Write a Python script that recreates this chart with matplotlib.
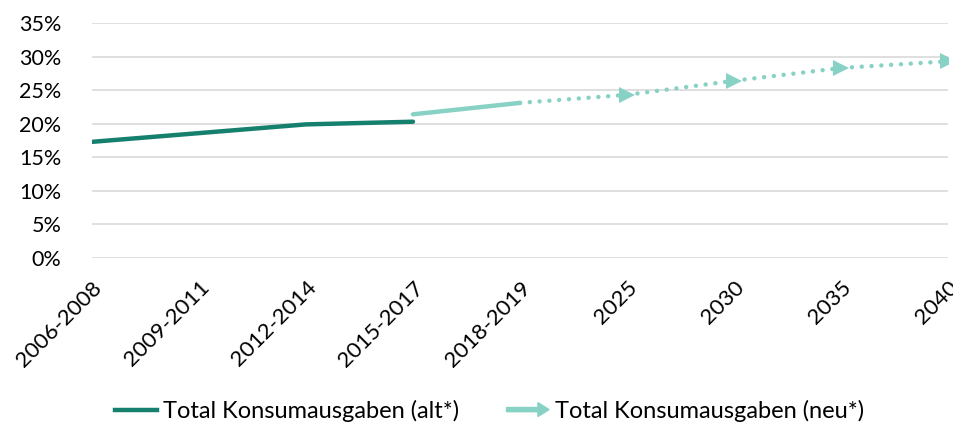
import matplotlib.pyplot as plt
import matplotlib.patches as mpatches
from matplotlib.lines import Line2D
from matplotlib.legend_handler import HandlerPatch
from matplotlib.ticker import PercentFormatter

plt.rcParams['font.family'] = ['Lato', 'DejaVu Sans']

categories = ['2006-2008', '2009-2011', '2012-2014', '2015-2017', '2018-2019',
              '2025', '2030', '2035', '2040']
alt = [17.3, 18.6, 19.9, 20.3]
neu = [21.4, 23.1, 24.3, 26.4, 28.3, 29.3]   # from 2015-2017 onwards

dark = '#16806f'
light = '#88d1c5'

x = list(range(len(categories)))
x_alt = x[:len(alt)]
x_neu = x[3:]

fig, ax = plt.subplots(figsize=(9.54, 4.22), dpi=100)
fig.subplots_adjust(left=0.0964, right=0.9937, top=0.9455, bottom=0.3886)

ax.plot(x_alt, alt, color=dark, lw=3.2, solid_capstyle='round')
ax.plot(x_neu[:2], neu[:2], color=light, lw=3.2, solid_capstyle='round')
ax.plot(x_neu[1:], neu[1:], color=light, lw=3.2, linestyle=(0, (0.01, 2.2)),
        dash_capstyle='round', marker='>', markersize=11, markevery=[1, 2, 3, 4],
        markeredgewidth=0)

ax.set_ylim(0, 35)
ax.set_xlim(0, len(categories) - 1)
ax.set_yticks(range(0, 36, 5))
ax.yaxis.set_major_formatter(PercentFormatter(decimals=0))
ax.set_xticks(x)
ax.set_xticklabels(categories, rotation=45, ha='right', rotation_mode='anchor')
ax.tick_params(axis='both', length=0, colors='#000000')
ax.tick_params(axis='x', pad=14, labelsize=16)
ax.tick_params(axis='y', pad=22, labelsize=15.5)
ax.grid(axis='y', color='#d9d9d9', lw=1.2)
ax.set_axisbelow(True)
for s in ax.spines.values():
    s.set_visible(False)


def make_arrow(legend, orig_handle, xdescent, ydescent, width, height, fontsize):
    return mpatches.FancyArrow(0, height / 2, width, 0, width=3, length_includes_head=True,
                               head_width=10, head_length=8, color=light, lw=0)


h_alt = Line2D([], [], color=dark, lw=3.2)
h_neu = mpatches.Patch(color=light)
fig.legend([h_alt, h_neu], ['Total Konsumausgaben (alt*)', 'Total Konsumausgaben (neu*)'],
           loc='lower center', bbox_to_anchor=(0.513, -0.05), ncol=2, frameon=False,
           fontsize=17, handlelength=1.8, handletextpad=0.25, columnspacing=2.0,
           handler_map={mpatches.Patch: HandlerPatch(patch_func=make_arrow)})

fig.savefig('out.png', dpi=100)
